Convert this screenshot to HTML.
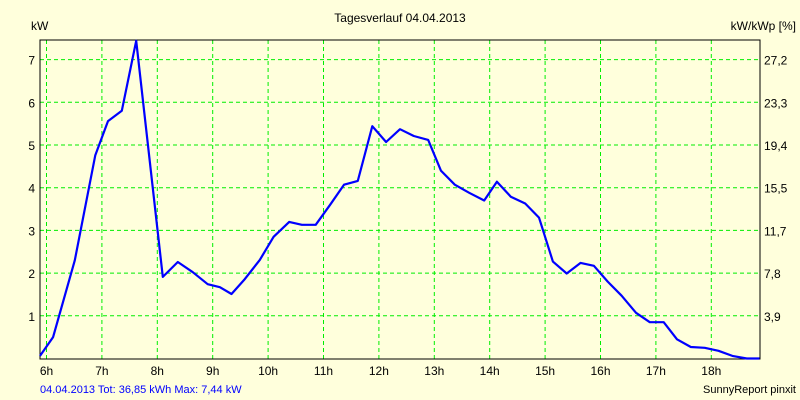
<!DOCTYPE html>
<html><head><meta charset="utf-8"><style>
body{margin:0;background:#ffffdc;}
svg{display:block;font-family:"Liberation Sans",sans-serif;font-size:12px;}
</style></head><body>
<svg id="c" width="800" height="400">
<rect x="0" y="0" width="800" height="400" fill="#ffffdc"/>
<text x="400" y="22" text-anchor="middle">Tagesverlauf 04.04.2013</text>
<text x="31" y="30">kW</text>
<text x="796" y="30" text-anchor="end">kW/kWp [%]</text>
<text x="40" y="393" fill="#0000ff" font-size="11">04.04.2013 Tot: 36,85 kWh Max: 7,44 kW</text>
<text x="796" y="393" text-anchor="end" font-size="11">SunnyReport pinxit</text>
<g id="grid"></g><g id="axes"></g><g id="series"></g>
</svg>
<script>
const hourTicks=[6,7,8,9,10,11,12,13,14,15,16,17,18];
const kwTicks=[1,2,3,4,5,6,7];
const pctLabels=["3,9","7,8","11,7","15,5","19,4","23,3","27,2"];
const times=[5.88,6.12,6.51,6.88,7.11,7.36,7.62,8.10,8.37,8.64,8.91,9.13,9.34,9.58,9.85,10.10,10.38,10.61,10.86,11.12,11.37,11.62,11.88,12.13,12.38,12.63,12.89,13.12,13.37,13.63,13.90,14.13,14.38,14.64,14.89,15.14,15.39,15.64,15.88,16.13,16.38,16.64,16.89,17.14,17.38,17.63,17.88,18.13,18.38,18.64,18.87];
const power=[0.06,0.50,2.30,4.76,5.56,5.80,7.44,1.91,2.26,2.02,1.74,1.67,1.51,1.86,2.31,2.85,3.20,3.13,3.13,3.60,4.07,4.16,5.44,5.07,5.37,5.21,5.12,4.40,4.07,3.88,3.70,4.14,3.79,3.63,3.30,2.27,1.99,2.24,2.17,1.80,1.47,1.07,0.85,0.85,0.45,0.27,0.25,0.18,0.06,0.0,0.0];
const L=40,R=760,T=40,B=359;
const xs=t=>46.5+(t-6)*55.4;
const ys=v=>358.5-v*42.7;
const NS="http://www.w3.org/2000/svg";
function mk(tag,attrs,parent,txt){const e=document.createElementNS(NS,tag);for(const k in attrs)e.setAttribute(k,attrs[k]);if(txt!==undefined)e.textContent=txt;parent.appendChild(e);return e;}
const grid=document.getElementById('grid'),axes=document.getElementById('axes'),series=document.getElementById('series');
hourTicks.forEach(h=>{const x=xs(h);
 const g=mk('line',{x1:x,x2:x,y1:T,y2:B,stroke:'#00ee00','stroke-dasharray':'4,3'},grid);
 
 
 const t=mk('text',{x:x,y:375,'text-anchor':'middle'},axes,h+'h');
 
 
});
kwTicks.forEach((v,i)=>{const y=ys(v);
 const g=mk('line',{x1:L,x2:R,y1:y,y2:y,stroke:'#00ee00','stroke-dasharray':'4,3'},grid);
 
 
 const t=mk('text',{x:35,y:y+5,'text-anchor':'end'},axes,String(v));
 
 
 const r=mk('text',{x:764,y:y+5},axes,pctLabels[i]);
 
 
});
const box=mk('rect',{x:L,y:T,width:R-L,height:B-T,fill:'none',stroke:'#000'},axes);


const pts=times.map((t,i)=>Math.max(L,xs(t)).toFixed(1)+','+ys(power[i]).toFixed(1)).join(' ');
const pl=mk('polyline',{points:pts,fill:'none',stroke:'#0000ff','stroke-width':2.2,'stroke-linejoin':'round'},series);


</script>
</body></html>
